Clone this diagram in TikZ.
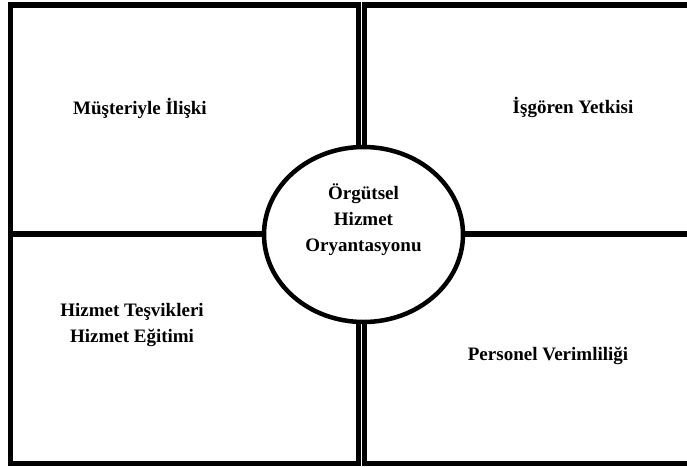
\documentclass[tikz,border=0pt]{standalone}
\usepackage{fontspec}
\setmainfont{Liberation Serif}
\usepackage{tikz}
\usetikzlibrary{shapes.geometric}

\tikzset{
  kutu/.style = {line width = 5.5pt},
  yazi/.style = {font = \fontsize{19}{26}\selectfont\bfseries, align = center}
}

\begin{document}
\begin{tikzpicture}[x = 1pt, y = -1pt]
\useasboundingbox (0, 0) rectangle (687, 466);
\draw [kutu] (10.5, 5) rectangle (358.5, 234);
\draw [kutu] (10.5, 234) rectangle (358.5, 463.5);
\draw [kutu] (364.5, 5) rectangle (700, 234);
\draw [kutu] (364.5, 234) rectangle (700, 463.5);
\node (org) at (363.5, 234.5) [draw, ellipse, fill = white, line width = 4.5pt,
  minimum width = 199pt, minimum height = 175pt] {};
\node (orgyazi) at (363.5, 219.5) [yazi] {Örgütsel\\Hizmet\\Oryantasyonu};
\node (musteri) at (140, 108) [yazi] {Müşteriyle İlişki};
\node (isgoren) at (573, 107) [yazi] {İşgören Yetkisi};
\node (tesvik) at (132, 325) [yazi] {Hizmet Teşvikleri\\Hizmet Eğitimi};
\node (personel) at (548, 356) [yazi] {Personel Verimliliği};
\end{tikzpicture}
\end{document}
